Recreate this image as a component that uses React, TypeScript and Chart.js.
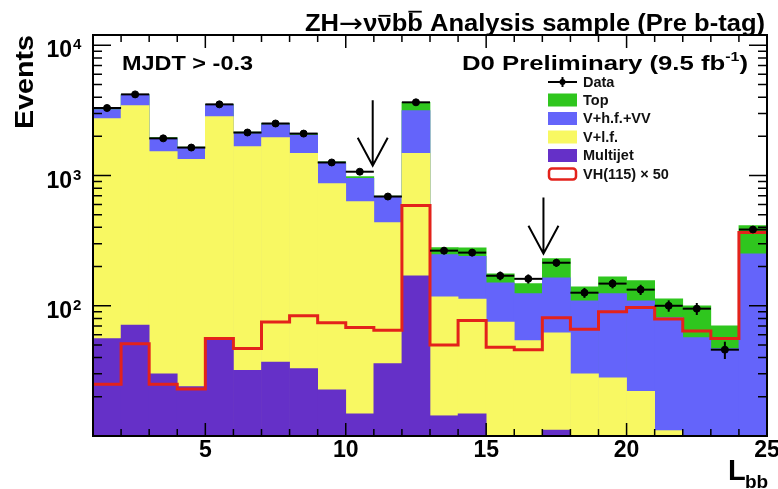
import React, { useEffect, useRef } from "react";
import { Chart, registerables } from "chart.js";

Chart.register(...registerables);

// ---------- data ----------
const binLow = [1, 2, 3, 4, 5, 6, 7, 8, 9, 10, 11, 12, 13, 14, 15, 16, 17, 18, 19, 20, 21, 22, 23, 24];
const binWidth = 1;
const multijet = [56, 71, 30, 24, 57, 32, 37, 33, 22.6, 14.8, 36, 170, 14.3, 14.8, 0, 0, 11.1, 0, 0, 0, 0, 0, 0, 0];
const vlf = [2680, 3380, 1500, 1310, 2780, 1640, 1920, 1450, 845, 615, 400, 1310, 103, 98, 75, 54, 51, 30, 28, 22, 11, 0, 0, 0];
const vhf = [480, 700, 390, 290, 640, 430, 510, 560, 375, 320, 245, 1680, 130, 127, 75, 70, 102, 79, 96, 87, 70, 57, 47, 251];
const topBkg = [50, 50, 40, 30, 40, 50, 50, 60, 30, 33, 15, 490, 32, 39, 26, 24, 66, 31, 43, 47, 32, 43, 23, 161];
const dataCounts = [3300, 4200, 1930, 1640, 3520, 2140, 2510, 2100, 1260, 1070, 690, 3650, 265, 256, 170, 161, 214, 126, 148, 133, 100, 95, 46, 385];
const dataErr = [57, 65, 44, 40, 59, 46, 50, 46, 35, 33, 26, 60, 16, 16, 13, 13, 15, 11, 12, 12, 10, 10, 7, 20];
const signalX50 = [25, 51, 25, 23, 56, 47, 75, 84, 74, 68, 65, 588, 50, 77, 48, 46, 81, 66, 90, 97, 79, 64, 56, 365];

const xMin = 1;
const xMax = 25;
const yMin = 10;
const yMax = 12000;
const xTickLabels = [5, 10, 15, 20, 25];
const yTickExponents = [2, 3, 4];

const arrowX = [10.96, 17.04];
const arrowTop = [3780, 677];
const arrowTip = [1190, 251];

const legendLabels = ["Data", "Top", "V+h.f.+VV", "V+l.f.", "Multijet", "VH(115) \u00d7 50"];

const COLORS = {
  top: "#2fc61e",
  vhf: "#6464fa",
  vlf: "#f8f862",
  mj: "#6530c8",
  sig: "#e3221b",
};

const FONT = '"Liberation Sans", Arial, Helvetica, sans-serif';
const FONT_SYM = '"DejaVu Sans", sans-serif';

function bold(size: number) {
  return `bold ${size}px ${FONT}`;
}

type Part = { t: string; s: number; dy?: number; bar?: boolean; sym?: boolean };

function partFont(p: Part) {
  return p.sym ? `${p.s}px ${FONT_SYM}` : bold(p.s);
}

// draw a run of text pieces starting at x0, stretched to a target width
function drawRun(ctx: CanvasRenderingContext2D, parts: Part[], x0: number, y: number, targetW: number) {
  let total = 0;
  parts.forEach((p) => {
    ctx.font = partFont(p);
    total += ctx.measureText(p.t).width;
  });
  const k = targetW / total;
  ctx.save();
  ctx.translate(x0, y);
  ctx.scale(k, 1);
  let x = 0;
  parts.forEach((p) => {
    ctx.font = partFont(p);
    const w = ctx.measureText(p.t).width;
    ctx.fillText(p.t, x, p.dy || 0);
    if (p.bar) {
      ctx.lineWidth = 1.8;
      const by = p.t === "b" ? -p.s * 0.84 : -p.s * 0.66;
      ctx.beginPath();
      ctx.moveTo(x + 1, by);
      ctx.lineTo(x + w - 1, by);
      ctx.stroke();
    }
    x += w;
  });
  ctx.restore();
}

const rootStyle = {
  id: "rootStyle",
  afterDatasetsDraw(chart: any) {
    const ctx: CanvasRenderingContext2D = chart.ctx;
    const xs = chart.scales.x;
    const ys = chart.scales.y;
    ctx.save();
    ctx.strokeStyle = "#000";
    ctx.fillStyle = "#000";
    ctx.lineWidth = 2;
    for (let i = 0; i < dataCounts.length; i++) {
      const xl = xs.getPixelForValue(binLow[i]);
      const xr = xs.getPixelForValue(binLow[i] + binWidth);
      const xc = xs.getPixelForValue(binLow[i] + binWidth / 2);
      const y = ys.getPixelForValue(dataCounts[i]);
      ctx.beginPath();
      ctx.moveTo(xl, y);
      ctx.lineTo(xr, y);
      ctx.stroke();
      ctx.beginPath();
      ctx.moveTo(xc, ys.getPixelForValue(dataCounts[i] + dataErr[i]));
      ctx.lineTo(xc, ys.getPixelForValue(Math.max(dataCounts[i] - dataErr[i], yMin)));
      ctx.stroke();
    }
    ctx.restore();
  },
  afterDraw(chart: any) {
    const ctx: CanvasRenderingContext2D = chart.ctx;
    const xs = chart.scales.x;
    const ys = chart.scales.y;
    const a = chart.chartArea;
    ctx.save();

    // frame
    ctx.strokeStyle = "#000";
    ctx.lineWidth = 2;
    ctx.strokeRect(a.left, a.top, a.right - a.left, a.bottom - a.top);

    // x ticks (bottom & top, inward)
    ctx.lineWidth = 1.5;
    for (let v = xMin; v <= xMax; v++) {
      const px = xs.getPixelForValue(v);
      const major = v % 5 === 0;
      const len = major ? 13 : 7;
      ctx.beginPath();
      ctx.moveTo(px, a.bottom);
      ctx.lineTo(px, a.bottom - len);
      ctx.moveTo(px, a.top);
      ctx.lineTo(px, a.top + len);
      ctx.stroke();
    }
    // y ticks (left & right, inward)
    for (let e = 1; e <= 4; e++) {
      for (let m = 1; m <= 9; m++) {
        const v = m * Math.pow(10, e);
        if (v < yMin || v > yMax) continue;
        const py = ys.getPixelForValue(v);
        const len = m === 1 ? 18 : 9;
        ctx.beginPath();
        ctx.moveTo(a.left, py);
        ctx.lineTo(a.left + len, py);
        ctx.moveTo(a.right, py);
        ctx.lineTo(a.right - len, py);
        ctx.stroke();
      }
    }

    ctx.fillStyle = "#000";
    // x tick labels
    ctx.font = bold(23);
    ctx.textAlign = "center";
    ctx.textBaseline = "alphabetic";
    xTickLabels.forEach((v) => {
      ctx.fillText(String(v), xs.getPixelForValue(v), a.bottom + 21);
    });
    // y tick labels 10^n
    yTickExponents.forEach((e) => {
      const py = ys.getPixelForValue(Math.pow(10, e));
      ctx.font = bold(23);
      ctx.textAlign = "right";
      ctx.fillText("10", 72, py + 12);
      ctx.font = bold(15);
      ctx.textAlign = "left";
      ctx.fillText(String(e), 73, py + 4);
    });

    // axis titles
    ctx.save();
    ctx.translate(33, 82);
    ctx.rotate(-Math.PI / 2);
    ctx.scale(1.1, 1);
    ctx.font = bold(26);
    ctx.textAlign = "center";
    ctx.fillText("Events", 0, 0);
    ctx.restore();

    ctx.textAlign = "left";
    ctx.font = bold(29);
    ctx.fillText("L", 728, 480);
    ctx.font = bold(19);
    ctx.fillText("bb", 745, 488);

    // title
    drawRun(
      ctx,
      [
        { t: "ZH", s: 23 },
        { t: "\u2192", s: 26, sym: true, dy: 1 },
        { t: "\u03bd", s: 23 },
        { t: "\u03bd", s: 23, bar: true },
        { t: "b", s: 23 },
        { t: "b", s: 23, bar: true },
        { t: " Analysis sample (Pre b-tag)", s: 23 },
      ],
      305,
      31,
      460
    );

    // annotations
    drawRun(ctx, [{ t: "MJDT > -0.3", s: 21 }], 122, 70, 131);
    drawRun(
      ctx,
      [
        { t: "D0 Preliminary (9.5 fb", s: 21 },
        { t: "-1", s: 13, dy: -9 },
        { t: ")", s: 21 },
      ],
      462,
      70,
      286
    );

    // legend
    const lx0 = 548;
    const lx1 = 577;
    const rowY = [82, 100, 118.5, 137, 155.5, 174];
    ctx.font = bold(14.5);
    ctx.textBaseline = "middle";
    legendLabels.forEach((lab, i) => {
      const cy = rowY[i];
      if (i === 0) {
        ctx.lineWidth = 2;
        ctx.beginPath();
        ctx.moveTo(lx0, cy);
        ctx.lineTo(lx1, cy);
        ctx.moveTo((lx0 + lx1) / 2, cy - 5);
        ctx.lineTo((lx0 + lx1) / 2, cy + 5);
        ctx.stroke();
        ctx.beginPath();
        ctx.arc((lx0 + lx1) / 2, cy, 3, 0, Math.PI * 2);
        ctx.fill();
      } else if (i < 5) {
        ctx.fillStyle = [COLORS.top, COLORS.vhf, COLORS.vlf, COLORS.mj][i - 1];
        ctx.fillRect(lx0, cy - 6.5, lx1 - lx0, 13);
      } else {
        ctx.strokeStyle = COLORS.sig;
        ctx.lineWidth = 2.5;
        ctx.beginPath();
        (ctx as any).roundRect
          ? (ctx as any).roundRect(lx0 + 1, cy - 5.5, lx1 - lx0 - 2, 11, 3)
          : ctx.rect(lx0 + 1, cy - 5.5, lx1 - lx0 - 2, 11);
        ctx.stroke();
        ctx.strokeStyle = "#000";
      }
      ctx.fillStyle = "#111";
      ctx.fillText(lab, 583, cy + 0.5);
      ctx.fillStyle = "#000";
    });
    ctx.textBaseline = "alphabetic";

    // arrows
    ctx.strokeStyle = "#000";
    ctx.lineWidth = 2;
    arrowX.forEach((xv, i) => {
      const px = xs.getPixelForValue(xv);
      const pTop = ys.getPixelForValue(arrowTop[i]);
      const pTip = ys.getPixelForValue(arrowTip[i]);
      ctx.beginPath();
      ctx.moveTo(px, pTop);
      ctx.lineTo(px, pTip);
      ctx.moveTo(px - 15, pTip - 28);
      ctx.lineTo(px, pTip);
      ctx.lineTo(px + 15, pTip - 28);
      ctx.stroke();
    });

    ctx.restore();
  },
};

export default function App() {
  const ref = useRef<HTMLCanvasElement>(null);

  useEffect(() => {
    document.body.style.margin = "0";
    const canvas = ref.current;
    if (!canvas) return;

    const centers = binLow.map((v) => v + binWidth / 2);
    const mjCum = multijet.map((v) => v);
    const lfCum = mjCum.map((v, i) => v + vlf[i]);
    const hfCum = lfCum.map((v, i) => v + vhf[i]);
    const topCum = hfCum.map((v, i) => v + topBkg[i]);
    const bars = (vals: number[]) => vals.map((v, i) => ({ x: centers[i], y: v > 0 ? v : null }));
    const sigSteps = binLow.map((v, i) => ({ x: v, y: signalX50[i] }));
    sigSteps.push({ x: binLow[binLow.length - 1] + binWidth, y: signalX50[signalX50.length - 1] });

    const barCommon = {
      type: "bar" as const,
      grouped: false,
      barPercentage: 1,
      categoryPercentage: 1,
      borderWidth: 0,
    };

    const chart = new Chart(canvas, {
      type: "bar",
      data: {
        datasets: [
          {
            type: "line",
            label: "Data",
            data: dataCounts.map((v, i) => ({ x: centers[i], y: v })),
            showLine: false,
            pointRadius: 3.5,
            pointBackgroundColor: "#000",
            pointBorderColor: "#000",
            order: -2,
          } as any,
          {
            type: "line",
            label: "VH(115) x 50",
            data: sigSteps,
            stepped: "before",
            borderColor: COLORS.sig,
            borderWidth: 3,
            pointRadius: 0,
            fill: false,
            order: -1,
          } as any,
          { ...barCommon, label: "Multijet", data: bars(mjCum), backgroundColor: COLORS.mj, order: 1 } as any,
          { ...barCommon, label: "V+l.f.", data: bars(lfCum), backgroundColor: COLORS.vlf, order: 2 } as any,
          { ...barCommon, label: "V+h.f.+VV", data: bars(hfCum), backgroundColor: COLORS.vhf, order: 3 } as any,
          { ...barCommon, label: "Top", data: bars(topCum), backgroundColor: COLORS.top, order: 4 } as any,
        ],
      },
      options: {
        animation: false,
        responsive: false,
        events: [],
        layout: { padding: { left: 93, right: 11, top: 35, bottom: 53 } },
        plugins: { legend: { display: false }, tooltip: { enabled: false } },
        scales: {
          x: { type: "linear", min: xMin, max: xMax, offset: false, display: false },
          y: { type: "logarithmic", min: yMin, max: yMax, display: false },
        },
      } as any,
      plugins: [rootStyle],
    });

    return () => chart.destroy();
  }, []);

  return (
    <div style={{ position: "absolute", left: 0, top: 0, width: 778, height: 489, background: "#fff" }}>
      <canvas ref={ref} width={778} height={489} style={{ display: "block" }} />
    </div>
  );
}
